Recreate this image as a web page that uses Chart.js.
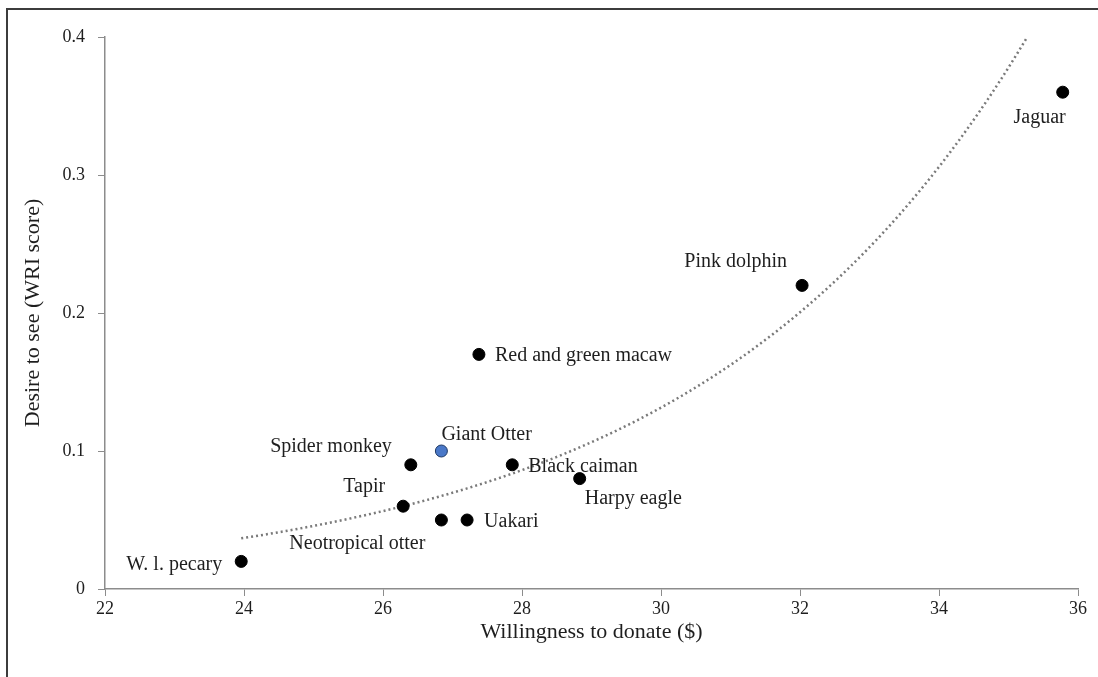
<!DOCTYPE html>
<html>
<head>
<meta charset="utf-8">
<script src="https://cdn.jsdelivr.net/npm/chart.js@4"></script>
<style>
    body { margin: 0; background: #fff; }
    canvas { display: block; }
</style>
</head>
<body>
<canvas id="chart" width="1098" height="677"></canvas>
<script>
// Dados
const species = ['W. l. pecary', 'Tapir', 'Spider monkey', 'Giant Otter', 'Neotropical otter', 'Uakari',
    'Red and green macaw', 'Black caiman', 'Harpy eagle', 'Pink dolphin', 'Jaguar'];
const donate = [23.96, 26.29, 26.40, 26.84, 26.84, 27.21, 27.38, 27.86, 28.83, 32.03, 35.78];
const desire = [0.02, 0.06, 0.09, 0.10, 0.05, 0.05, 0.17, 0.09, 0.08, 0.22, 0.36];
const xTicks = [22, 24, 26, 28, 30, 32, 34, 36];
const yTicks = [0, 0.1, 0.2, 0.3, 0.4];

// Posição dos rótulos (deslocamento em px a partir do ponto)
const labelPlacement = {
    'W. l. pecary': { dx: -19, dy: 3, align: 'right' },
    'Tapir': { dx: -18, dy: -19, align: 'right' },
    'Spider monkey': { dx: -19, dy: -18, align: 'right' },
    'Giant Otter': { dx: 0, dy: -16, align: 'left' },
    'Neotropical otter': { dx: -16, dy: 24, align: 'right' },
    'Uakari': { dx: 17, dy: 2, align: 'left' },
    'Red and green macaw': { dx: 16, dy: 1, align: 'left' },
    'Black caiman': { dx: 16, dy: 2, align: 'left' },
    'Harpy eagle': { dx: 5, dy: 20, align: 'left' },
    'Pink dolphin': { dx: -15, dy: -24, align: 'right' },
    'Jaguar': { dx: 3, dy: 26, align: 'right' }
};

// Linha de tendência exponencial (ajuste de ln(y) por mínimos quadrados, como no Excel)
function exponentialTrend(xs, ys, yMax) {
    const n = xs.length;
    const ly = ys.map(v => Math.log(v));
    const mx = xs.reduce((a, b) => a + b, 0) / n;
    const my = ly.reduce((a, b) => a + b, 0) / n;
    let sxy = 0, sxx = 0;
    for (let i = 0; i < n; i++) {
        sxy += (xs[i] - mx) * (ly[i] - my);
        sxx += (xs[i] - mx) * (xs[i] - mx);
    }
    const b = sxy / sxx;
    const a = my - b * mx;
    const x0 = Math.min(...xs);
    const x1 = Math.min(Math.max(...xs), (Math.log(yMax) - a) / b);
    const pts = [];
    const steps = 80;
    for (let i = 0; i <= steps; i++) {
        const x = x0 + (x1 - x0) * i / steps;
        pts.push({ x: x, y: Math.exp(a + b * x) });
    }
    return pts;
}

const frame = {
    id: 'frame',
    beforeDraw(chart) {
        const ctx = chart.ctx;
        ctx.save();
        ctx.fillStyle = '#fff';
        ctx.fillRect(0, 0, chart.width, chart.height);
        ctx.strokeStyle = '#3c3c3c';
        ctx.lineWidth = 2;
        ctx.beginPath();
        ctx.moveTo(7, chart.height);
        ctx.lineTo(7, 9);
        ctx.lineTo(chart.width, 9);
        ctx.stroke();
        ctx.restore();
    }
};

const pointLabels = {
    id: 'pointLabels',
    afterDatasetsDraw(chart) {
        const ctx = chart.ctx;
        const meta = chart.getDatasetMeta(0);
        ctx.save();
        ctx.font = '20px "Liberation Serif", "Times New Roman", serif';
        ctx.fillStyle = '#1e1e1e';
        ctx.textBaseline = 'middle';
        meta.data.forEach((el, i) => {
            const p = labelPlacement[species[i]];
            ctx.textAlign = p.align;
            ctx.fillText(species[i], el.x + p.dx, el.y + p.dy);
        });
        ctx.restore();
    }
};

const axisColor = '#8c8c8c';
const serif = '"Liberation Serif", "Times New Roman", serif';
const font = { family: serif, size: 18 };

new Chart(document.getElementById('chart').getContext('2d'), {
    type: 'scatter',
    data: {
        datasets: [{
            label: 'Species',
            data: donate.map((x, i) => ({ x: x, y: desire[i] })),
            backgroundColor: species.map(s => s === 'Giant Otter' ? '#4a78c8' : '#000'),
            borderColor: species.map(s => s === 'Giant Otter' ? '#1f3a66' : '#000'),
            borderWidth: 1,
            pointRadius: 6,
            order: 0
        }, {
            label: 'Trend',
            type: 'line',
            data: exponentialTrend(donate, desire, 0.4),
            borderColor: '#7a7a7a',
            borderWidth: 2.5,
            borderDash: [2, 3],
            pointRadius: 0,
            fill: false,
            tension: 0,
            order: 1
        }]
    },
    options: {
        responsive: false,
        animation: false,
        layout: { padding: { top: 37, right: 20, left: 0, bottom: 0 } },
        plugins: {
            legend: { display: false },
            tooltip: { enabled: false }
        },
        scales: {
            x: {
                type: 'linear',
                min: 22,
                max: 36,
                afterBuildTicks: s => { s.ticks = xTicks.map(v => ({ value: v })); },
                afterFit: s => { s.height = 88; },
                grid: { drawOnChartArea: false, drawTicks: true, tickLength: 7, color: axisColor },
                border: { color: axisColor, width: 1.5 },
                ticks: { color: '#1e1e1e', font: font, padding: 2 },
                title: { display: true, text: 'Willingness to donate ($)', color: '#1e1e1e',
                    font: { family: serif, size: 22 }, padding: { top: 0, bottom: 32 } }
            },
            y: {
                type: 'linear',
                min: 0,
                max: 0.4,
                afterBuildTicks: s => { s.ticks = yTicks.map(v => ({ value: v })); },
                afterFit: s => { s.width = 105; },
                grid: { drawOnChartArea: false, drawTicks: true, tickLength: 7, color: axisColor },
                border: { color: axisColor, width: 1.5 },
                ticks: { color: '#1e1e1e', font: font, padding: 13, callback: v => String(Math.round(v * 10) / 10) },
                title: { display: true, text: 'Desire to see (WRI score)', color: '#1e1e1e',
                    font: { family: serif, size: 22 }, padding: { top: 20, bottom: 0 } }
            }
        }
    },
    plugins: [frame, pointLabels]
});
</script>
</body>
</html>
